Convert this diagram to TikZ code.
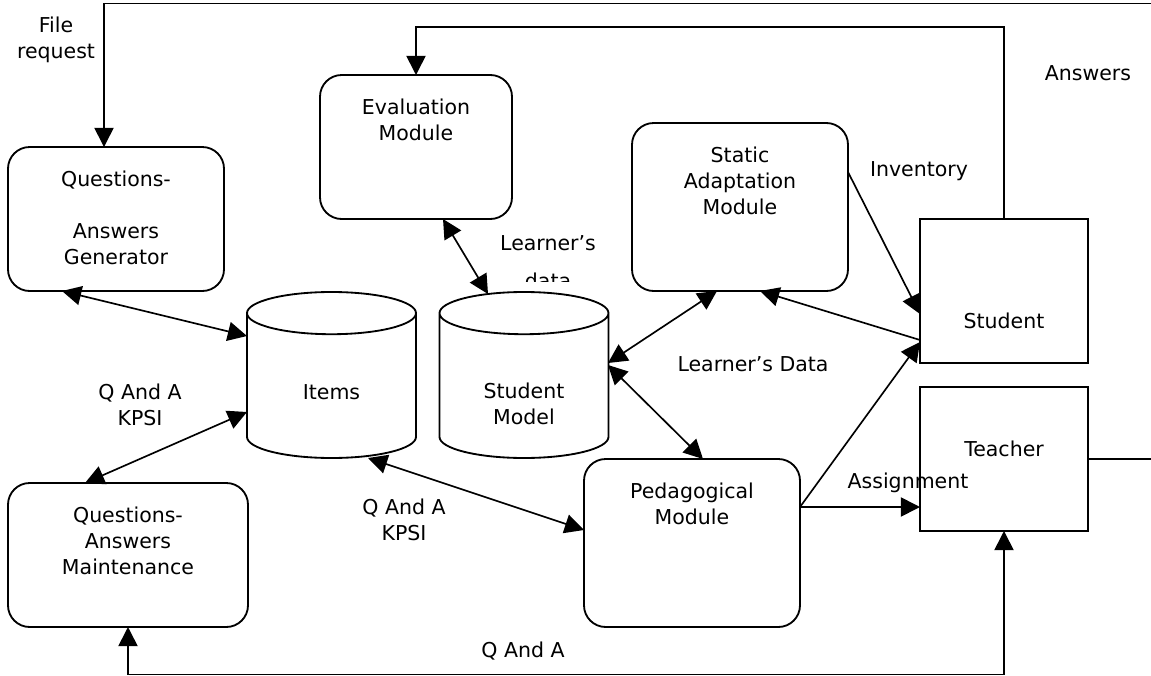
\documentclass[tikz,border=0pt]{standalone}
\usepackage{fontspec}
\setmainfont{DejaVu Sans}
\usetikzlibrary{arrows.meta,shapes.geometric}

\begin{document}
\begin{tikzpicture}[
    x=0.6pt, y=-0.6pt,
    >={Triangle[length=11.5pt,width=11.5pt]},
    every node/.style={font=\fontsize{12.3}{15.6}\selectfont},
    module/.style={draw, rounded corners=13pt, line width=1.1pt, outer sep=0pt},
    actor/.style={draw, line width=0.9pt, minimum width=100.8pt, minimum height=86.4pt, outer sep=0pt},
    store/.style={draw, cylinder, shape border rotate=90, aspect=3.8, line width=1.1pt, minimum width=101.4pt, minimum height=99.6pt, outer sep=0pt, anchor=north},
    intext/.style={anchor=north, yshift=-14pt, align=center, inner sep=0pt},
    note/.style={align=center, inner sep=0pt},
    flow/.style={line width=1pt}
]
\useasboundingbox (0,0) rectangle (1151,676);
\clip (0,0) rectangle (1151,676);

\node[module, minimum width=129.6pt, minimum height=86.4pt, label={[intext]north:{Questions-\\[15.6pt]Answers\\Generator}}] (qagen) at (116,219) {};
\node[module, minimum width=115.2pt, minimum height=86.4pt, label={[intext]north:{Evaluation\\Module}}] (eval) at (416,147) {};
\node[module, minimum width=129.6pt, minimum height=100.8pt, label={[intext]north:{Static\\Adaptation\\Module}}] (static) at (740,207) {};
\node[module, minimum width=129.6pt, minimum height=100.8pt, label={[intext]north:{Pedagogical\\Module}}] (pedag) at (692,543) {};
\node[module, minimum width=144pt, minimum height=86.4pt, label={[intext]north:{Questions-\\Answers\\Maintenance}}] (qamaint) at (128,555) {};

\node[actor, label={[note,yshift=-18pt]center:Student}] (student) at (1004,291) {};
\node[actor, label={[note,yshift=6pt]center:Teacher}] (teacher) at (1004,459) {};

\node[store, label={[note,anchor=center,yshift=-60pt]above:Items}] (items) at (331.5,292) {};
\node[store, label={[note,anchor=center,yshift=-67.2pt]above:{Student\\Model}}] (smodel) at (524,292) {};

% texts on the flows
\node[note] (filereq) at (56,39.5) {File\\request};
\node[note] (answers) at (1088,73) {Answers};
\node[note] (inventory) at (919,171) {Inventory};
\node[note] (lrndata) at (753,364) {Learner’s Data};
\node[note] (qakpsi) at (140,405) {Q And A\\KPSI};
\node[note] (qakpsib) at (404,519.5) {Q And A\\KPSI};
\node[note] (assign) at (908,483) {Assignment};
\node[note] (qanda) at (523,651) {Q And A};
\begin{scope}
  \clip (440,200) rectangle (660,281);
  \node[note, anchor=north] (lrnnote) at (548,235) {Learner’s\\[7.2pt]data};
\end{scope}

\draw[flow,<->] ([xshift=-32.4pt]qagen.south) -- ([xshift=-50.7pt,yshift=-26.4pt]items.north);
\draw[flow,<->] ([xshift=-25.8pt]qamaint.north) -- ([xshift=-50.7pt,yshift=-72pt]items.north);
\draw[flow,<->] ([xshift=21.9pt]items.south) -- ([yshift=7.8pt]pedag.west);
\draw[flow,<->] ([xshift=16.2pt]eval.south) -- ([xshift=-21.6pt,yshift=-1.2pt]smodel.north);
\draw[flow,<->] ([xshift=50.4pt,yshift=-42.6pt]smodel.north) -- ([xshift=-13.8pt]static.south);
\draw[flow,<->] ([xshift=50.4pt,yshift=-43.8pt]smodel.north) -- ([xshift=6.6pt]pedag.north);
\draw[flow,->] ([yshift=-29.4pt]student.west) -- ([xshift=12pt]static.south);
\draw[flow,->] ([yshift=21pt]static.east) -- ([yshift=-13.8pt]student.west);
\draw[flow,->] ([yshift=21.6pt]pedag.east) -- ([yshift=-30.6pt]student.west);
\draw[flow,->] ([yshift=21.6pt]pedag.east) -- ([yshift=-28.8pt]teacher.west);

\draw[flow,->] (teacher.east) -- (1165,459) -- (1165,3.5) -| ([xshift=-7.2pt]qagen.north);
\draw[flow,->] (student.north) -- ++(0,-192) -| (eval.north);
\draw[flow,<->] (qamaint.south) -- ++(0,47.5) -| (teacher.south);

\end{tikzpicture}
\end{document}
